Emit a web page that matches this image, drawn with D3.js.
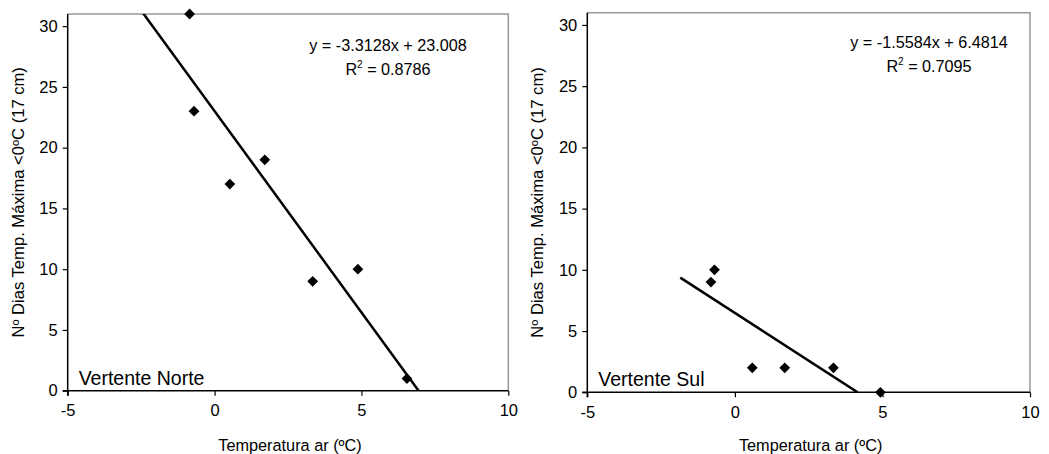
<!DOCTYPE html>
<html>
<head>
<meta charset="utf-8">
<script src="https://cdn.jsdelivr.net/npm/d3@7"></script>
<style>
  body { margin: 0; background: #fff; }
  svg { display: block; font-family: "Liberation Sans", Arial, sans-serif; }
</style>
</head>
<body>
<svg id="chart" width="1049" height="454"></svg>
<script>
// ---- data ----
const xTicks = [-5, 0, 5, 10];
const yTicks = [0, 5, 10, 15, 20, 25, 30];
const xDomain = [-5, 10];
const yDomain = [0, 31];

const norteTemp = [-0.85, -0.7, 0.52, 1.71, 3.34, 4.88, 6.55];
const norteDias = [31, 23, 17, 19, 9, 10, 1];
const norteSlope = -3.3128, norteIntercept = 23.008;
const norteTrendX = [-2.6, 6.945];
const norteEq = "y = -3.3128x + 23.008";
const norteR2 = "0.8786";
const norteLabel = "Vertente Norte";

const sulTemp = [-0.81, -0.69, 0.59, 1.69, 3.34, 4.93];
const sulDias = [9, 10, 2, 2, 2, 0];
const sulSlope = -1.5584, sulIntercept = 6.4814;
const sulTrendX = [-1.85, 4.159];
const sulEq = "y = -1.5584x + 6.4814";
const sulR2 = "0.7095";
const sulLabel = "Vertente Sul";

const xTitle = "Temperatura ar (ºC)";
const yTitle = "Nº Dias Temp. Máxima <0ºC (17 cm)";

const svg = d3.select("#chart");
const FF = "Liberation Sans, Arial, sans-serif";

function panel(cfg) {
  const g = svg.append("g").attr("font-family", FF);
  const x = d3.scaleLinear().domain(xDomain).range([cfg.x0, cfg.x1]);
  const y = d3.scaleLinear().domain(yDomain).range([cfg.y0, cfg.y1]);

  const clipId = "clip" + cfg.id;
  svg.append("clipPath").attr("id", clipId)
    .append("rect").attr("x", cfg.x0).attr("y", cfg.y1)
    .attr("width", cfg.x1 - cfg.x0).attr("height", cfg.y0 - cfg.y1);

  // gray top/right border
  g.append("path")
    .attr("d", `M${cfg.x0},${cfg.y1}H${cfg.x1}V${cfg.y0}`)
    .attr("fill", "none").attr("stroke", "#999").attr("stroke-width", 1.5);

  // axes
  const xAxis = g.append("g").attr("transform", `translate(0,${cfg.y0})`)
    .call(d3.axisBottom(x).tickValues(xTicks).tickSize(5).tickPadding(9).tickFormat(d => String(d)));
  const yAxis = g.append("g").attr("transform", `translate(${cfg.x0},0)`)
    .call(d3.axisLeft(y).tickValues(yTicks).tickSize(5).tickPadding(5).tickFormat(d => String(d)));
  [xAxis, yAxis].forEach(a => {
    a.attr("font-family", FF).attr("font-size", 16.5);
    a.select(".domain").attr("stroke", "#000").attr("stroke-width", 1.5);
    a.selectAll(".tick line").attr("stroke", "#000").attr("stroke-width", 1.2);
    a.selectAll(".tick text").attr("fill", "#000");
  });
  yAxis.select(".domain").attr("d", `M-5,${cfg.y0}H0V${cfg.y1}`);
  xAxis.select(".domain").attr("d", `M${cfg.x0},5V0H${cfg.x1}`);
  xAxis.selectAll(".tick text").attr("dy", "0.71em");

  // trend line
  g.append("line").attr("clip-path", `url(#${clipId})`)
    .attr("x1", x(cfg.trendX[0])).attr("y1", y(cfg.slope * cfg.trendX[0] + cfg.intercept))
    .attr("x2", x(cfg.trendX[1])).attr("y2", y(cfg.slope * cfg.trendX[1] + cfg.intercept))
    .attr("stroke", "#000").attr("stroke-width", 2.5);

  // points
  const sym = d3.symbol().type(d3.symbolSquare).size(58);
  g.selectAll("path.pt").data(cfg.temp.map((t, i) => [t, cfg.dias[i]]))
    .join("path").attr("class", "pt")
    .attr("d", sym)
    .attr("transform", d => `translate(${x(d[0])},${y(d[1])}) rotate(45)`)
    .attr("fill", "#000");

  // equation
  g.append("text").attr("x", cfg.eqX).attr("y", cfg.eqY).attr("text-anchor", "middle")
    .attr("font-size", 16.2).text(cfg.eq);
  const r = g.append("text").attr("x", cfg.eqX).attr("y", cfg.eqY + 24).attr("text-anchor", "middle")
    .attr("font-size", 16.2);
  r.append("tspan").text("R");
  r.append("tspan").attr("font-size", 10).attr("dy", -7).text("2");
  r.append("tspan").attr("dy", 7).text(" = " + cfg.r2);

  // panel label
  g.append("text").attr("x", cfg.x0 + 11).attr("y", cfg.y0 - 6)
    .attr("font-size", 19.5).text(cfg.label);

  // axis titles
  g.append("text").attr("x", (cfg.x0 + cfg.x1) / 2 + 2).attr("y", 451)
    .attr("text-anchor", "middle").attr("font-size", 16.3).text(xTitle);
  g.append("text")
    .attr("transform", `translate(${cfg.yTitleX},${(cfg.y0 + cfg.y1) / 2}) rotate(-90)`)
    .attr("text-anchor", "middle").attr("font-size", 16.6).text(yTitle);
}

panel({ id: 1, x0: 67.7, x1: 508.3, y0: 390.7, y1: 14,
  temp: norteTemp, dias: norteDias, slope: norteSlope, intercept: norteIntercept,
  trendX: norteTrendX, eq: norteEq, r2: norteR2, label: norteLabel,
  eqX: 388, eqY: 51, yTitleX: 24 });

panel({ id: 2, x0: 587.3, x1: 1030, y0: 392.3, y1: 12.7,
  temp: sulTemp, dias: sulDias, slope: sulSlope, intercept: sulIntercept,
  trendX: sulTrendX, eq: sulEq, r2: sulR2, label: sulLabel,
  eqX: 929, eqY: 48, yTitleX: 543 });
</script>
</body>
</html>
